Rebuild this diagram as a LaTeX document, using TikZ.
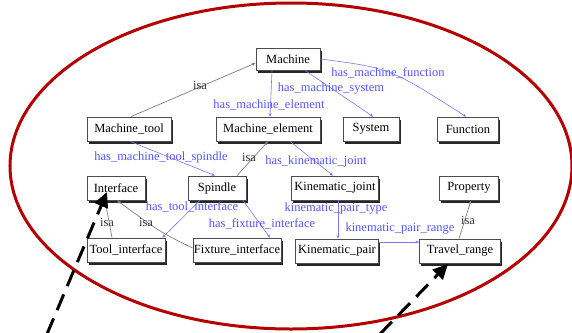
\documentclass[tikz,border=0pt]{standalone}
\usepackage{fontspec}
\setmainfont{Liberation Serif}
\usetikzlibrary{calc,arrows.meta,shadows}
\definecolor{ellred}{RGB}{180,0,0}
\definecolor{lblblue}{RGB}{85,85,255}
\definecolor{edgeblue}{RGB}{120,120,255}
\tikzset{
  box/.style={draw=black!70,line width=0.8pt,fill=white,inner sep=0pt,minimum height=24pt,
    font=\fontsize{12.5}{14}\selectfont,
    drop shadow={shadow xshift=1.6pt,shadow yshift=-2.6pt,fill=black!85,opacity=1}},
  hasedge/.style={draw=edgeblue,line width=0.6pt,-{Stealth[length=3.5pt,width=3pt]}},
  isaedge/.style={draw=black!50,line width=0.7pt,-{Stealth[length=4pt,width=3.5pt]}},
  haslbl/.style={text=lblblue,inner sep=0pt,font=\fontsize{12.5}{14}\selectfont},
  isalbl/.style={text=black!80,inner sep=0pt,font=\fontsize{12.5}{14}\selectfont},
  bigarrow/.style={line width=3pt,dash pattern=on 17pt off 9pt,-{Triangle[length=15pt,width=14pt]}}
}
\begin{document}
\begin{tikzpicture}[x=1pt,y=-1pt]
\useasboundingbox (0,0) rectangle (572,332);
\begin{scope}
\clip (0,0) rectangle (572,332);
\draw[ellred,line width=3pt] (291,166) ellipse [x radius=281,y radius=163];
\end{scope}
% nodes
\node[box,minimum width=64pt,minimum height=22pt] (M) at (288,59) {Machine};
\node[box,minimum width=84pt] (MT) at (129,129) {Machine\_tool};
\node[box,minimum width=104pt] (ME) at (268,129) {Machine\_element};
\node[box,minimum width=56pt] (SY) at (371,129) {System};
\node[box,minimum width=61pt] (FU) at (468,129) {Function};
\node[box,minimum width=58pt] (IF) at (116,188) {Interface};
\node[box,minimum width=58pt] (SP) at (217,188) {Spindle};
\node[box,minimum width=87pt] (KJ) at (335,188) {Kinematic\_joint};
\node[box,minimum width=59pt] (PR) at (469,188) {Property};
\node[box,minimum width=78pt] (TI) at (126,250) {Tool\_interface};
\node[box,minimum width=88pt] (FI) at (237,250) {Fixture\_interface};
\node[box,minimum width=83pt] (KP) at (337,251) {Kinematic\_pair};
\node[box,minimum width=81pt] (TR) at (460,251) {Travel\_range};
% isa edges
\draw[isaedge] ($(MT.north)+(2,0)$) -- ($(M.west)+(0,4)$);
\draw[isaedge] ($(SP.north)+(20,0)$) -- ($(ME.south)+(0,0)$);
\draw[isaedge] ($(TI.north)+(-14,0)$) -- ($(IF.south)+(-11,0)$);
\draw[isaedge] ($(FI.west)+(0,-2)$) .. controls (160,232) .. ($(IF.south)+(1,0)$);
\draw[isaedge] ($(TR.north)+(-1,0)$) -- ($(PR.south)+(2,0)$);
% has edges
\draw[hasedge] ($(M.south)+(-16,0)$) -- ($(ME.north)+(2,0)$);
\draw[hasedge] ($(M.south)+(17,0)$) -- ($(SY.north)+(2,0)$);
\draw[hasedge] (M.east) .. controls (390,68) .. ($(FU.north)+(-2,0)$);
\draw[hasedge] ($(MT.south)+(1,0)$) -- ($(SP.north)+(-2,0)$);
\draw[hasedge] ($(ME.south)+(22,0)$) -- ($(KJ.north)+(-2,0)$);
\draw[hasedge] ($(SP.south)+(-17,0)$) -- ($(TI.north east)+(-3,0)$);
\draw[hasedge] ($(SP.south)+(26,0)$) -- ($(FI.north)+(33,0)$);
\draw[hasedge] ($(KJ.south)+(3,0)$) -- ($(KP.north)+(1,0)$);
\draw[hasedge] ($(KP.east)+(0,-9)$) -- ($(TR.west)+(0,-9)$);
% labels
\node[isalbl] (l1) at (200,85) {isa};
\node[isalbl] (l2) at (249,157) {isa};
\node[isalbl] (l3) at (107,222) {isa};
\node[isalbl] (l4) at (146,222) {isa};
\node[isalbl] (l5) at (468,220) {isa};
\node[haslbl] (h1) at (269,105) {has\_machine\_element};
\node[haslbl] (h2) at (331,89) {has\_machine\_system};
\node[haslbl] (h3) at (388,73) {has\_machine\_function};
\node[haslbl] (h4) at (161,157) {has\_machine\_tool\_spindle};
\node[haslbl] (h5) at (316,161) {has\_kinematic\_joint};
\node[haslbl] (h6) at (192,207) {has\_tool\_interface};
\node[haslbl] (h7) at (262,224) {has\_fixture\_interface};
\node[haslbl] (h8) at (336,209) {kinematic\_pair\_type};
\node[haslbl] (h9) at (400,229) {kinematic\_pair\_range};
% dashed pointer arrows
\coordinate (a0) at (47,334);
\coordinate (a1) at (107,192);
\coordinate (b0) at (380,334);
\coordinate (b1) at (448,264);
\draw[bigarrow] (a0) -- (a1);
\draw[bigarrow] (b0) -- (b1);
\end{tikzpicture}
\end{document}
